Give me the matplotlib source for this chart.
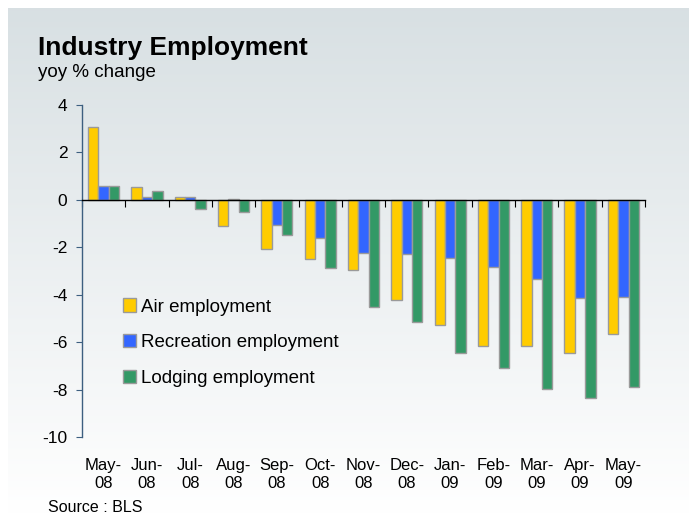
import matplotlib
matplotlib.use("Agg")
import matplotlib.pyplot as plt
import matplotlib.transforms as mtransforms
import numpy as np

months = ["May-\n08", "Jun-\n08", "Jul-\n08", "Aug-\n08", "Sep-\n08", "Oct-\n08", "Nov-\n08",
          "Dec-\n08", "Jan-\n09", "Feb-\n09", "Mar-\n09", "Apr-\n09", "May-\n09"]
air = [3.06, 0.56, 0.11, -1.10, -2.07, -2.51, -2.95, -4.21, -5.26, -6.17, -6.17, -6.45, -5.64]
recreation = [0.60, 0.14, 0.11, 0.05, -1.05, -1.61, -2.22, -2.29, -2.44, -2.82, -3.34, -4.15, -4.10]
lodging = [0.60, 0.39, -0.39, -0.53, -1.47, -2.89, -4.52, -5.16, -6.44, -7.07, -7.98, -8.36, -7.90]
series_names = ["Air employment", "Recreation employment", "Lodging employment"]
yticks = [4, 2, 0, -2, -4, -6, -8, -10]

plt.rcParams['font.family'] = ['Liberation Sans', 'DejaVu Sans']

W, H = 689, 514
fig = plt.figure(figsize=(W / 100, H / 100), dpi=100)
fig.patch.set_facecolor("white")

# gradient background panel
bg = fig.add_axes([8 / W, 0, 1 - 8 / W, 1 - 8 / H])
bg.set_axis_off()
grad = np.linspace(0, 1, 256).reshape(-1, 1)
top = np.array([0.847, 0.878, 0.890])
bot = np.array([1.0, 1.0, 1.0])
img = top[None, None, :] * (1 - grad[:, :, None]) + bot[None, None, :] * grad[:, :, None]
bg.imshow(img, aspect="auto", extent=[0, 1, 0, 1], origin="upper")
bg.set_xlim(0, 1)
bg.set_ylim(0, 1)

ax = fig.add_axes([82 / W, 1 - 437 / H, (645 - 82) / W, (437 - 105) / H])
ax.set_facecolor("none")

n = len(months)
x = np.arange(n)
bw = 0.24
colors = ["#FFCC00", "#3366FF", "#339966"]
for i, (vals, c, name) in enumerate(zip([air, recreation, lodging], colors, series_names)):
    ax.bar(x + (i - 1) * bw, vals, width=bw, color=c, edgecolor="#9a9a9a",
           linewidth=1.0, label=name, zorder=2)

ax.set_xlim(-0.5, n - 0.5)
ax.set_ylim(-10, 4)
ax.set_yticks(yticks)
ax.set_yticklabels([str(v) for v in yticks], fontsize=12.5)
ax.tick_params(axis="y", direction="out", length=4, color="#3d5f80", pad=6.5)

for s in ["top", "right"]:
    ax.spines[s].set_visible(False)
ax.spines["left"].set_color("#3d5f80")
ax.spines["left"].set_linewidth(1.0)
ax.spines["bottom"].set_position(("data", 0))
ax.spines["bottom"].set_color("black")
ax.spines["bottom"].set_linewidth(1.0)
ax.spines["bottom"].set_zorder(3)

ax.set_xticks(np.arange(n + 1) - 0.5)
ax.set_xticklabels([])
ax.tick_params(axis="x", direction="out", length=5, color="black")

trans = mtransforms.blended_transform_factory(ax.transData, ax.transAxes)
for xi, lab in zip(x, months):
    ax.text(xi, -0.062, lab, transform=trans, ha="center", va="top",
            fontsize=12, linespacing=1.25)

leg = ax.legend(loc="upper left", bbox_to_anchor=(0.06, 0.44), frameon=False,
                fontsize=13.5, handlelength=0.7, handleheight=0.7,
                handletextpad=0.25, labelspacing=1.0, borderaxespad=0)

fig.text(38 / W, 1 - 48 / H, "Industry Employment", fontsize=19, fontweight="bold",
         ha="left", va="center")
fig.text(38 / W, 1 - 73 / H, "yoy % change", fontsize=13.5, ha="left", va="center")
fig.text(48 / W, 1 - 507 / H, "Source : BLS", fontsize=11.5, ha="left", va="center")

fig.savefig("out.png", dpi=100)
